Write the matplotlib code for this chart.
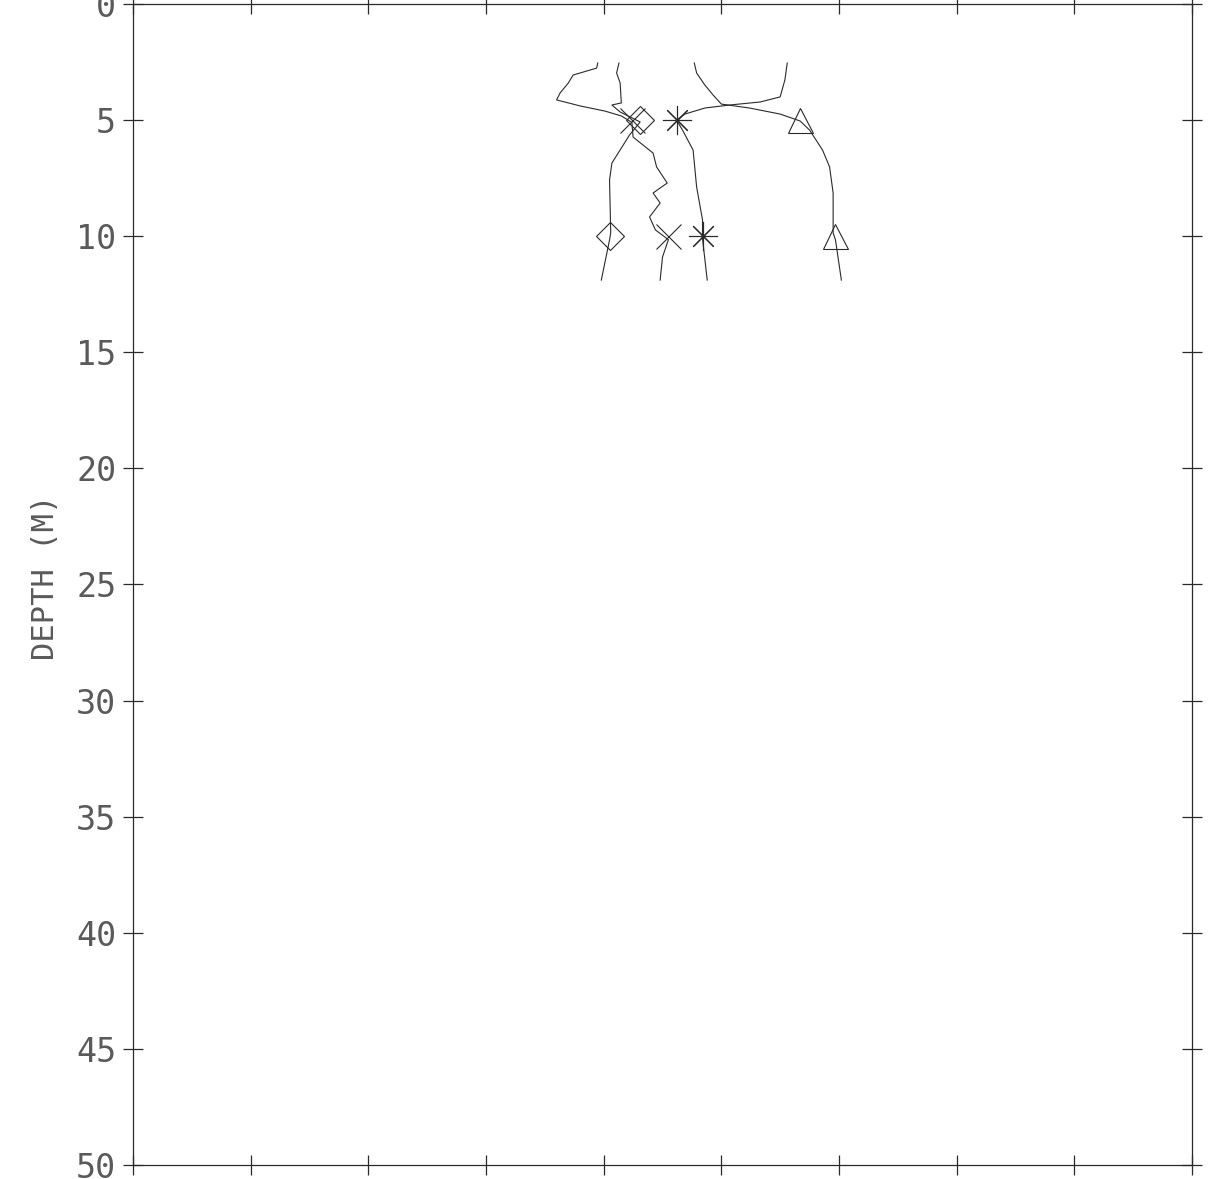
import numpy as np
from matplotlib import pyplot as plt

# profile data (x in plot units 0-9, depth in m)
x_cross = [3.95, 3.94, 3.74, 3.70, 3.63, 3.60, 3.80, 4.01, 4.15, 4.24, 4.25, 4.42, 4.45, 4.54, 4.42, 4.48, 4.39, 4.44, 4.55, 4.50, 4.48]
d_cross = [2.54, 2.76, 3.06, 3.40, 3.83, 4.13, 4.39, 4.61, 4.82, 5.10, 5.73, 6.42, 7.02, 7.71, 8.14, 8.57, 9.17, 9.73, 10.15, 10.90, 11.89]

x_diam = [4.13, 4.11, 4.14, 4.15, 4.07, 4.14, 4.31, 4.22, 4.07, 4.05, 4.06, 4.05, 3.98]
d_diam = [2.54, 2.97, 3.40, 4.26, 4.35, 4.65, 5.08, 5.64, 6.85, 7.58, 9.86, 10.16, 11.89]

x_star = [5.56, 5.54, 5.50, 5.33, 5.07, 4.86, 4.69, 4.62, 4.67, 4.76, 4.79, 4.84, 4.84, 4.88]
d_star = [2.54, 3.27, 4.00, 4.22, 4.35, 4.48, 4.74, 5.00, 5.43, 6.29, 7.88, 9.30, 10.10, 11.89]

x_tri = [4.77, 4.79, 4.86, 4.93, 5.00, 5.24, 5.50, 5.67, 5.75, 5.86, 5.92, 5.95, 5.95, 5.97, 6.02]
d_tri = [2.54, 2.97, 3.49, 3.92, 4.31, 4.48, 4.74, 5.04, 5.43, 6.29, 7.02, 8.14, 9.86, 10.16, 11.89]

# markers at 5 m and 10 m
mark_depth = [5, 10]
mark_cross = [4.24, 4.55]
mark_diam = [4.31, 4.05]
mark_star = [4.62, 4.84]
mark_tri = [5.67, 5.97]

y_ticks = np.arange(0, 55, 5)
x_ticks = np.arange(0, 10, 1)

ink = '#2a2a2a'

fig = plt.figure(figsize=(12.23, 11.79), dpi=100)
ax = fig.add_axes([0.1087, 0.0119, 0.866, 0.9847])

ax.plot(x_cross, d_cross, color=ink, lw=0.8)
ax.plot(x_diam, d_diam, color=ink, lw=0.8)
ax.plot(x_star, d_star, color=ink, lw=0.8)
ax.plot(x_tri, d_tri, color=ink, lw=0.8)

ax.plot(mark_cross, mark_depth, ls='none', marker='x', ms=18, mew=0.8, color=ink)
ax.plot(mark_diam, mark_depth, ls='none', marker='D', ms=14, mew=0.8, mfc='none', mec=ink)
ax.plot(mark_star, mark_depth, ls='none', marker=(8, 2, 0), ms=21, mew=0.8, color=ink)
ax.plot(mark_tri, mark_depth, ls='none', marker='^', ms=18, mew=0.8, mfc='none', mec=ink)

ax.set_xlim(0, 9)
ax.set_ylim(50, 0)
ax.set_xticks(x_ticks)
ax.set_yticks(y_ticks)
ax.set_xticklabels([])
ax.set_yticklabels([str(v) for v in y_ticks], family='DejaVu Sans Mono',
                   fontsize=24, color='#5a5a5a')
ax.tick_params(axis='both', which='both', direction='inout', length=14,
               width=0.9, color=ink, top=True, right=True, pad=5)
for s in ax.spines.values():
    s.set_color(ink)
    s.set_linewidth(0.9)

fig.text(0.037, 0.51, 'DEPTH (M)', rotation=90, ha='center', va='center',
         family='DejaVu Sans Mono', fontsize=22, color='#5a5a5a')

fig.savefig('out.png', dpi=100)
